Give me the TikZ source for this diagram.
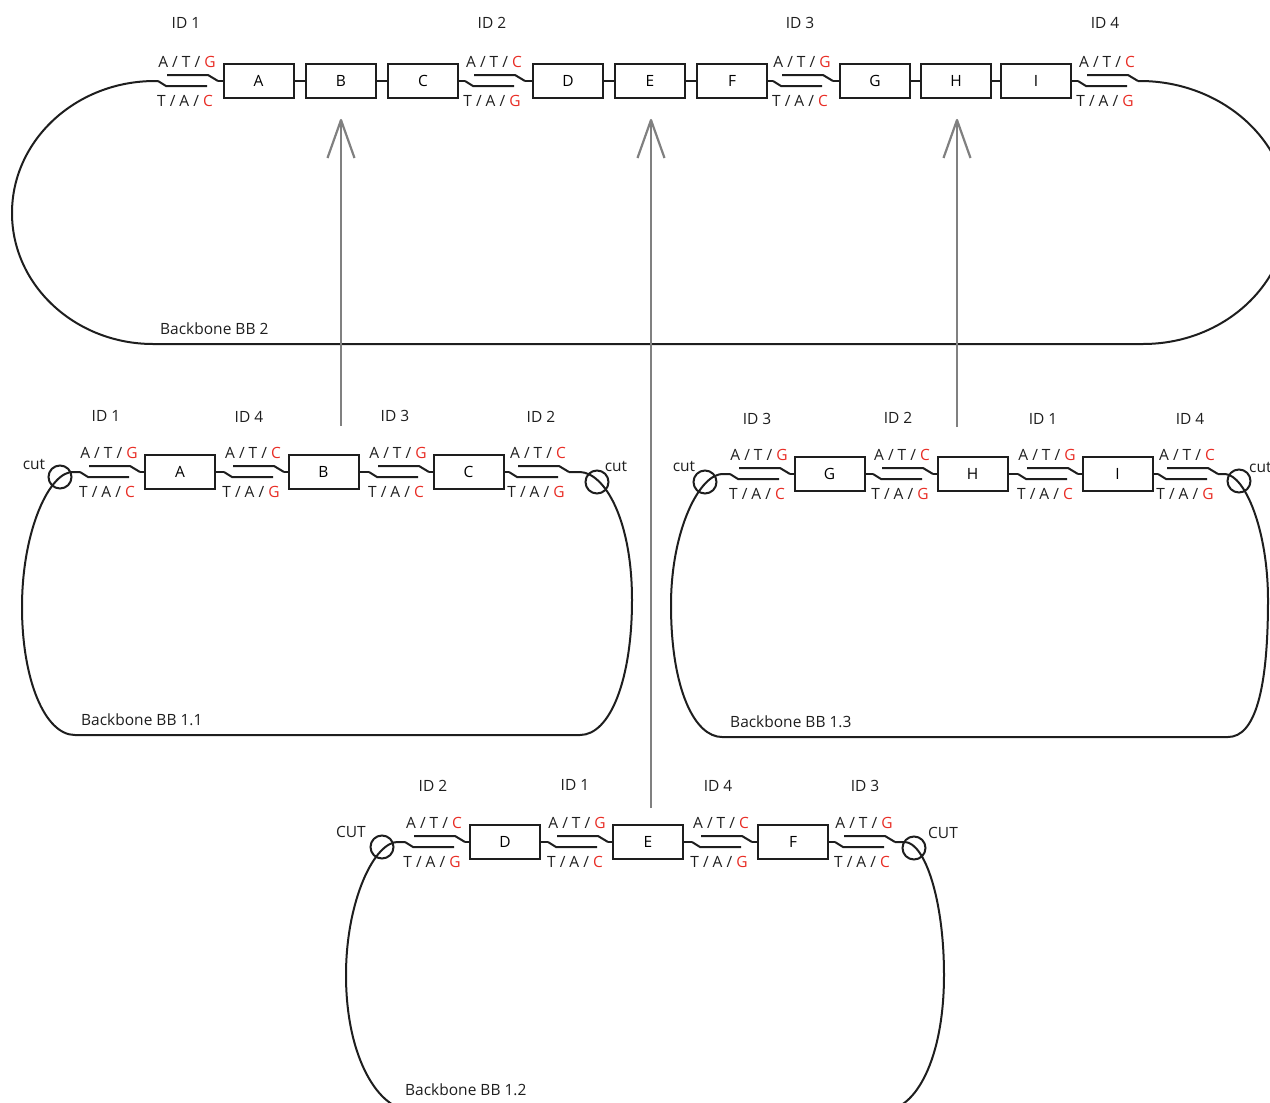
\documentclass[tikz,border=0pt]{standalone}
\usepackage{fontspec}
\setmainfont{Open Sans}
\definecolor{redl}{RGB}{232,44,36}
\definecolor{arrowgray}{RGB}{128,128,128}
\definecolor{inkc}{RGB}{30,30,30}
\tikzset{
 strand/.style={line width=2pt, inkc},
 box/.style={draw=inkc, line width=2pt, minimum width=70pt, minimum height=34pt, inner sep=0pt, font=\fontsize{15.5}{18}\selectfont},
 lbl/.style={font=\fontsize{15.5}{18}\selectfont, anchor=base, inner sep=0pt, text=inkc},
 lbll/.style={lbl, anchor=base west},
 cutc/.style={draw=inkc, circle, line width=2pt, minimum size=23pt, inner sep=0pt},
 garrow/.style={line width=2.2pt, arrowgray, line join=round},
}
\newcommand\lATG{A / T / \textcolor{redl}{G}}
\newcommand\lATC{A / T / \textcolor{redl}{C}}
\newcommand\lTAC{T / A / \textcolor{redl}{C}}
\newcommand\lTAG{T / A / \textcolor{redl}{G}}
\newcommand\junc[5]{%
 \coordinate (#1in) at (#2,#3);
 \coordinate (#1out) at (#2+60,#3);
 \draw[strand] (#1in) -- ++(8,5) -- ++(41,0);
 \draw[strand] (#2+9,#3-6) -- ++(41,0) -- (#1out);
 \node[lbl] (#1t) at (#2+29,#3-14) {#4};
 \node[lbl] (#1b) at (#2+27,#3+25) {#5};
}
\begin{document}
\begin{tikzpicture}[x=1pt,y=-1pt]
\useasboundingbox (0,0) rectangle (1270,1103);
\clip (0,0) rectangle (1270,1103);

% ===== Top: Backbone BB 2 =====
\junc{tJ1}{158}{81}{\lATG}{\lTAC}
\junc{tJ2}{465}{81}{\lATC}{\lTAG}
\junc{tJ3}{773}{81}{\lATG}{\lTAC}
\junc{tJ4}{1078}{81}{\lATC}{\lTAG}
\node[box] (tA) at (258.5,81) {A};
\node[box] (tB) at (341,81) {B};
\node[box] (tC) at (423,81) {C};
\node[box] (tD) at (568,81) {D};
\node[box] (tE) at (650,81) {E};
\node[box] (tF) at (732,81) {F};
\node[box] (tG) at (875,81) {G};
\node[box] (tH) at (956,81) {H};
\node[box] (tI) at (1036,81) {I};
\draw[strand] (tJ1out) -- (tA.west);
\draw[strand] (tA.east) -- (tB.west);
\draw[strand] (tB.east) -- (tC.west);
\draw[strand] (tC.east) -- (tJ2in);
\draw[strand] (tJ2out) -- (tD.west);
\draw[strand] (tD.east) -- (tE.west);
\draw[strand] (tE.east) -- (tF.west);
\draw[strand] (tF.east) -- (tJ3in);
\draw[strand] (tJ3out) -- (tG.west);
\draw[strand] (tG.east) -- (tH.west);
\draw[strand] (tH.east) -- (tI.west);
\draw[strand] (tI.east) -- (tJ4in);
\draw[strand] (tJ4out) -- (1140,81) .. controls (1220,81) and (1288,139) .. (1288,212)
  .. controls (1288,285) and (1223,344) .. (1143,344) -- (153,344)
  .. controls (76,344) and (12,286) .. (12,213)
  .. controls (12,140) and (76,81) .. (155,81) -- (tJ1in);
\node[lbl] (tID1) at (186,28) {ID 1};
\node[lbl] (tID2) at (492,28) {ID 2};
\node[lbl] (tID3) at (800,28) {ID 3};
\node[lbl] (tID4) at (1105,28) {ID 4};
\node[lbll] (tBB) at (160,334) {Backbone BB 2};

% ===== Backbone BB 1.1 =====
\junc{aJ1}{80}{472}{\lATG}{\lTAC}
\junc{aJ2}{224}{472}{\lATC}{\lTAG}
\junc{aJ3}{369}{472}{\lATG}{\lTAC}
\junc{aJ4}{509}{472}{\lATC}{\lTAG}
\node[box] (aA) at (180,472) {A};
\node[box] (aB) at (323.5,472) {B};
\node[box] (aC) at (468.5,472) {C};
\draw[strand] (aJ1out) -- (aA.west);
\draw[strand] (aA.east) -- (aJ2in);
\draw[strand] (aJ2out) -- (aB.west);
\draw[strand] (aB.east) -- (aJ3in);
\draw[strand] (aJ3out) -- (aC.west);
\draw[strand] (aC.east) -- (aJ4in);
\draw[strand] (aJ4out) -- (580,472) .. controls (605,473) and (632,520) .. (632,600)
  .. controls (632,680) and (610,735) .. (580,735) -- (75,735)
  .. controls (45,735) and (22,680) .. (22,607)
  .. controls (22,530) and (50,470) .. (74,472) -- (aJ1in);
\node[cutc] (aCutL) at (60,477) {};
\node[cutc] (aCutR) at (597,482) {};
\node[lbl] (aCutLt) at (34,469) {cut};
\node[lbl] (aCutRt) at (616,471) {cut};
\node[lbl] (aID1) at (106,421) {ID 1};
\node[lbl] (aID4) at (249,422) {ID 4};
\node[lbl] (aID3) at (395,421) {ID 3};
\node[lbl] (aID2) at (541,422) {ID 2};
\node[lbll] (aBB) at (81,725) {Backbone BB 1.1};

% ===== Backbone BB 1.3 =====
\junc{cJ1}{730}{474}{\lATG}{\lTAC}
\junc{cJ2}{873}{474}{\lATC}{\lTAG}
\junc{cJ3}{1018}{474}{\lATG}{\lTAC}
\junc{cJ4}{1158}{474}{\lATC}{\lTAG}
\node[box] (cG) at (829.5,474) {G};
\node[box] (cH) at (972.5,474) {H};
\node[box] (cI) at (1117.5,474) {I};
\draw[strand] (cJ1out) -- (cG.west);
\draw[strand] (cG.east) -- (cJ2in);
\draw[strand] (cJ2out) -- (cH.west);
\draw[strand] (cH.east) -- (cJ3in);
\draw[strand] (cJ3out) -- (cI.west);
\draw[strand] (cI.east) -- (cJ4in);
\draw[strand] (cJ4out) -- (1225,474) .. controls (1245,475) and (1268,530) .. (1268,600)
  .. controls (1268,690) and (1255,737) .. (1228,737) -- (722,737)
  .. controls (695,737) and (671,690) .. (671,605)
  .. controls (671,530) and (700,472) .. (724,474) -- (cJ1in);
\node[cutc] (cCutL) at (705,482) {};
\node[cutc] (cCutR) at (1239,481) {};
\node[lbl] (cCutLt) at (684,471) {cut};
\node[lbll] (cCutRt) at (1249,472) {cut};
\node[lbl] (cID3) at (757,424) {ID 3};
\node[lbl] (cID2) at (898,423) {ID 2};
\node[lbl] (cID1) at (1043,424) {ID 1};
\node[lbl] (cID4) at (1190,424) {ID 4};
\node[lbll] (cBB) at (730,727) {Backbone BB 1.3};

% ===== Backbone BB 1.2 =====
\junc{bJ1}{405}{842}{\lATC}{\lTAG}
\junc{bJ2}{548}{842}{\lATG}{\lTAC}
\junc{bJ3}{692}{842}{\lATC}{\lTAG}
\junc{bJ4}{835}{842}{\lATG}{\lTAC}
\node[box] (bD) at (505,842) {D};
\node[box] (bE) at (648,842) {E};
\node[box] (bF) at (793,842) {F};
\draw[strand] (bJ1out) -- (bD.west);
\draw[strand] (bD.east) -- (bJ2in);
\draw[strand] (bJ2out) -- (bE.west);
\draw[strand] (bE.east) -- (bJ3in);
\draw[strand] (bJ3out) -- (bF.west);
\draw[strand] (bF.east) -- (bJ4in);
\draw[strand] (bJ4out) -- (905,842) .. controls (925,843) and (944,900) .. (944,975)
  .. controls (944,1060) and (915,1110) .. (885,1110) -- (410,1110)
  .. controls (380,1110) and (346,1060) .. (346,975)
  .. controls (346,900) and (375,840) .. (399,842) -- (bJ1in);
\node[cutc] (bCutL) at (382,847) {};
\node[cutc] (bCutR) at (914,848) {};
\node[lbl] (bCutLt) at (351,837) {CUT};
\node[lbl] (bCutRt) at (943,838) {CUT};
\node[lbl] (bID2) at (433,791) {ID 2};
\node[lbl] (bID1) at (575,790) {ID 1};
\node[lbl] (bID4) at (718,791) {ID 4};
\node[lbl] (bID3) at (865,791) {ID 3};
\node[lbll] (bBB) at (405,1095) {Backbone BB 1.2};

% ===== Arrows =====
\coordinate (ar1s) at (341,426); \coordinate (ar1t) at (341,120);
\coordinate (ar2s) at (651,808); \coordinate (ar2t) at (651,120);
\coordinate (ar3s) at (957,427); \coordinate (ar3t) at (957,120);
\foreach \k in {1,2,3}{
  \draw[garrow] (ar\k s) -- (ar\k t);
  \draw[garrow] (ar\k t) ++(-13.5,38) -- (ar\k t) -- ++(13.5,38);
}
\end{tikzpicture}
\end{document}
